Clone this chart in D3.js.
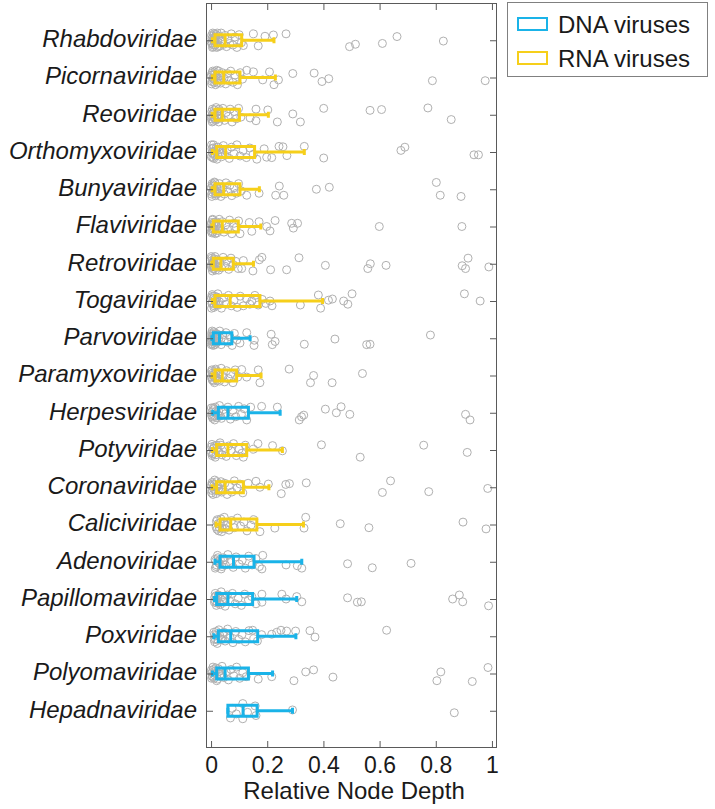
<!DOCTYPE html>
<html><head><meta charset="utf-8">
<script src="https://cdn.jsdelivr.net/npm/d3@7"></script>
<style>
body{margin:0;background:#fff;}
svg{display:block;font-family:"Liberation Sans",Arial,Helvetica,sans-serif;}
</style></head>
<body><svg id="c" width="715" height="809"></svg>
<script>
// ---- data ----
const families = ["Rhabdoviridae","Picornaviridae","Reoviridae","Orthomyxoviridae","Bunyaviridae","Flaviviridae","Retroviridae","Togaviridae","Parvoviridae","Paramyxoviridae","Herpesviridae","Potyviridae","Coronaviridae","Caliciviridae","Adenoviridae","Papillomaviridae","Poxviridae","Polyomaviridae","Hepadnaviridae"];
const genomeType = ["RNA","RNA","RNA","RNA","RNA","RNA","RNA","RNA","DNA","RNA","DNA","RNA","RNA","RNA","DNA","DNA","DNA","DNA","DNA"];
// [whisker low, Q1, median, Q3, whisker high]
const boxStats = [
 [0.005,0.014,0.050,0.109,0.224],
 [0.005,0.014,0.045,0.103,0.229],
 [0.004,0.014,0.040,0.101,0.204],
 [0.005,0.020,0.052,0.155,0.332],
 [0.004,0.014,0.045,0.103,0.172],
 [0.003,0.008,0.040,0.097,0.177],
 [0.003,0.008,0.035,0.079,0.151],
 [0.005,0.014,0.068,0.174,0.397],
 [0.003,0.008,0.030,0.074,0.139],
 [0.004,0.014,0.040,0.091,0.178],
 [0.006,0.026,0.060,0.133,0.246],
 [0.005,0.020,0.060,0.127,0.254],
 [0.004,0.020,0.050,0.115,0.206],
 [0.018,0.032,0.070,0.163,0.329],
 [0.014,0.032,0.080,0.153,0.323],
 [0.012,0.020,0.060,0.148,0.305],
 [0.010,0.026,0.070,0.166,0.302],
 [0.005,0.020,0.050,0.133,0.219],
 [0.060,0.060,0.114,0.164,0.290]
];
// observed relative node depths per family: [value, vertical jitter (-1..1)]
const nodeDepths = [
 [[0.002,-.6],[0.004,.4],[0.006,-.9],[0.008,.8],[0.01,0],[0.012,-.3],[0.015,.6],[0.018,-.7],[0.02,.9],[0.024,.2],[0.028,-.5],[0.032,.7],[0.036,-.9],[0.04,.1],[0.045,.5],[0.05,-.6],[0.055,.8],[0.06,-.2],[0.066,.4],[0.072,-.8],[0.078,.6],[0.085,-.4],[0.092,.9],[0.1,-.7],[0.108,.3],[0.115,.66],[0.151,-.8],[0.168,.7],[0.192,-.5],[0.222,-.66],[0.267,-.8],[0.493,.8],[0.514,.5],[0.61,.4],[0.662,-.46],[0.827,.1]],
 [[0.003,.5],[0.006,-.8],[0.009,.2],[0.012,-.4],[0.016,.9],[0.02,-.9],[0.025,.3],[0.03,-.2],[0.034,.7],[0.04,-.6],[0.046,.1],[0.052,.8],[0.058,-.5],[0.064,.4],[0.07,-.8],[0.078,.6],[0.085,-.3],[0.094,.9],[0.104,-.6],[0.112,.2],[0.127,-.9],[0.151,-.7],[0.184,.3],[0.208,-.7],[0.224,.9],[0.24,.3],[0.291,-.5],[0.367,-.55],[0.395,.5],[0.419,.15],[0.788,.4],[0.976,.4]],
 [[0.002,.2],[0.005,-.7],[0.008,.8],[0.011,-.2],[0.014,.5],[0.018,-.9],[0.022,.1],[0.027,.9],[0.031,-.5],[0.036,.4],[0.042,-.8],[0.048,.7],[0.054,-.3],[0.061,.2],[0.068,-.7],[0.075,.9],[0.083,-.4],[0.09,.5],[0.098,-.8],[0.106,.3],[0.139,.4],[0.16,-.7],[0.16,.75],[0.202,-.6],[0.236,.9],[0.291,-.1],[0.318,.9],[0.401,-.8],[0.566,-.55],[0.607,-.65],[0.772,-.85],[0.855,.6]],
 [[0.003,-.4],[0.006,.7],[0.009,-.9],[0.013,.3],[0.017,-.2],[0.021,.9],[0.026,-.6],[0.031,.1],[0.037,.6],[0.044,-.8],[0.05,.4],[0.057,-.3],[0.065,.8],[0.073,-.6],[0.082,.2],[0.092,-.9],[0.103,.5],[0.114,-.2],[0.126,.7],[0.138,-.5],[0.15,.3],[0.163,.9],[0.189,-.4],[0.198,.65],[0.216,.7],[0.242,-.7],[0.256,-.65],[0.27,.45],[0.332,-.7],[0.401,.75],[0.676,-.2],[0.69,-.6],[0.936,.35],[0.952,.35]],
 [[0.002,.6],[0.005,-.5],[0.008,.1],[0.012,-.9],[0.016,.8],[0.02,-.3],[0.025,.4],[0.03,-.7],[0.035,.9],[0.041,-.1],[0.047,.6],[0.053,-.8],[0.06,.3],[0.067,-.5],[0.074,.8],[0.082,-.2],[0.09,.5],[0.098,-.7],[0.107,.2],[0.127,.75],[0.171,.5],[0.23,.75],[0.243,-.4],[0.259,.75],[0.375,0],[0.421,-.25],[0.802,-.85],[0.816,.75],[0.89,.9]],
 [[0.001,-.3],[0.003,.8],[0.005,-.8],[0.008,.2],[0.011,-.5],[0.015,.9],[0.019,-.1],[0.024,.5],[0.029,-.9],[0.034,.3],[0.04,-.6],[0.046,.7],[0.052,-.2],[0.059,.4],[0.066,-.8],[0.074,.9],[0.082,-.4],[0.09,.1],[0.098,-.7],[0.103,.9],[0.136,-.5],[0.145,.6],[0.171,-.6],[0.198,0],[0.21,.55],[0.228,-.75],[0.287,-.4],[0.293,.2],[0.308,-.4],[0.599,0],[0.893,0]],
 [[0.001,.4],[0.003,-.7],[0.005,.9],[0.008,-.2],[0.011,.6],[0.014,-.9],[0.018,.2],[0.022,-.5],[0.027,.8],[0.032,-.1],[0.037,.5],[0.043,-.8],[0.049,.3],[0.056,-.4],[0.063,.7],[0.071,-.7],[0.079,.1],[0.088,-.3],[0.097,.6],[0.109,.6],[0.115,-.4],[0.149,.9],[0.172,-.5],[0.181,-.8],[0.212,.75],[0.269,.75],[0.313,-.75],[0.407,.2],[0.558,.6],[0.567,0],[0.623,.2],[0.894,.25],[0.906,.6],[0.915,-.7],[0.989,.4]],
 [[0.003,.3],[0.006,-.6],[0.01,.8],[0.014,-.2],[0.019,.5],[0.024,-.9],[0.03,.1],[0.037,.9],[0.045,-.4],[0.053,.4],[0.062,-.7],[0.072,.6],[0.082,-.1],[0.093,.8],[0.104,-.6],[0.115,.6],[0.126,-.3],[0.138,.4],[0.145,0],[0.156,-.7],[0.168,.5],[0.182,-.2],[0.195,.3],[0.21,0],[0.217,.6],[0.318,.5],[0.382,-.75],[0.39,.9],[0.418,-.1],[0.432,-.25],[0.472,0],[0.487,.4],[0.502,-.9],[0.902,-.9],[0.958,0]],
 [[0.001,.2],[0.002,-.6],[0.004,.7],[0.006,-.3],[0.008,.9],[0.01,-.8],[0.013,.4],[0.016,-.1],[0.019,.6],[0.023,-.5],[0.027,.1],[0.031,-.9],[0.036,.8],[0.041,-.4],[0.047,.3],[0.053,-.7],[0.06,.5],[0.067,-.2],[0.075,.9],[0.083,-.6],[0.092,.2],[0.103,.6],[0.127,-.7],[0.153,.9],[0.154,.25],[0.214,-.5],[0.218,.8],[0.228,.4],[0.332,.75],[0.441,.1],[0.554,.8],[0.566,.75],[0.781,-.4]],
 [[0.002,-.5],[0.005,.6],[0.008,-.1],[0.012,.9],[0.016,-.8],[0.02,.3],[0.025,-.4],[0.03,.7],[0.036,-.9],[0.042,.1],[0.048,.8],[0.055,-.6],[0.062,.4],[0.07,-.2],[0.078,.9],[0.086,-.7],[0.095,.2],[0.109,-.75],[0.127,.2],[0.168,-.7],[0.174,.9],[0.278,-.8],[0.354,.9],[0.365,0],[0.431,.9],[0.539,-.25]],
 [[0.004,.5],[0.008,-.6],[0.013,.9],[0.018,-.2],[0.024,.3],[0.03,-.9],[0.037,.7],[0.044,-.4],[0.052,.1],[0.06,-.7],[0.069,.8],[0.078,-.3],[0.088,.5],[0.098,-.8],[0.108,.2],[0.118,-.5],[0.127,.9],[0.141,-.7],[0.18,-.8],[0.236,-.7],[0.314,.9],[0.322,.5],[0.33,.3],[0.407,-.45],[0.446,0],[0.463,-.75],[0.494,.2],[0.906,.2],[0.922,.9]],
 [[0.003,-.7],[0.006,.5],[0.01,-.2],[0.015,.9],[0.02,-.6],[0.026,.2],[0.032,-.9],[0.039,.6],[0.046,-.3],[0.054,.8],[0.062,-.5],[0.071,.1],[0.08,-.8],[0.09,.7],[0.1,-.1],[0.11,.4],[0.115,.9],[0.122,-.6],[0.151,-.1],[0.167,-.8],[0.219,-.55],[0.254,.1],[0.393,-.65],[0.531,.9],[0.757,-.6],[0.912,.3]],
 [[0.002,.7],[0.005,-.4],[0.009,.2],[0.013,-.9],[0.018,.8],[0.023,-.1],[0.029,.5],[0.035,-.7],[0.042,.3],[0.049,-.5],[0.057,.9],[0.065,-.2],[0.074,.6],[0.083,-.8],[0.093,.1],[0.103,-.4],[0.113,.7],[0.132,-.5],[0.16,-.75],[0.174,0],[0.204,-.4],[0.25,.8],[0.266,-.35],[0.279,-.45],[0.339,-.55],[0.61,.65],[0.639,-.8],[0.775,.55],[0.985,.15]],
 [[0.018,.3],[0.022,-.6],[0.027,.8],[0.033,-.2],[0.04,.5],[0.047,-.9],[0.055,.1],[0.064,.7],[0.073,-.5],[0.083,.4],[0.094,-.8],[0.105,.2],[0.117,-.3],[0.128,.8],[0.142,.1],[0.152,-.6],[0.174,.9],[0.227,.45],[0.331,.45],[0.337,-.9],[0.46,-.1],[0.562,.4],[0.897,-.3],[0.979,.55]],
 [[0.014,-.3],[0.018,.6],[0.023,-.8],[0.029,.2],[0.036,.9],[0.043,-.5],[0.051,.4],[0.06,-.9],[0.069,.1],[0.079,.7],[0.089,-.6],[0.1,.3],[0.111,-.2],[0.122,.8],[0.134,-.7],[0.146,.4],[0.16,-.4],[0.172,.6],[0.181,.9],[0.184,-.8],[0.267,.4],[0.307,.5],[0.323,.8],[0.486,.25],[0.574,.75],[0.712,.2]],
 [[0.012,.4],[0.015,-.7],[0.019,.8],[0.024,-.2],[0.03,.5],[0.036,-.9],[0.043,.2],[0.05,.9],[0.058,-.5],[0.067,.3],[0.076,-.7],[0.086,.6],[0.097,-.1],[0.108,.8],[0.12,-.6],[0.133,.1],[0.145,-.3],[0.16,.6],[0.181,-.6],[0.181,.4],[0.252,-.6],[0.267,0],[0.305,-.3],[0.323,.35],[0.486,-.15],[0.521,.4],[0.535,.35],[0.86,0],[0.884,-.5],[0.896,.35],[0.988,.85]],
 [[0.01,-.5],[0.013,.7],[0.017,-.1],[0.022,.9],[0.028,-.8],[0.035,.3],[0.042,-.4],[0.05,.6],[0.059,-.9],[0.068,.2],[0.078,.8],[0.088,-.6],[0.099,.4],[0.11,-.2],[0.122,.7],[0.135,-.7],[0.148,-.75],[0.152,.3],[0.165,.6],[0.18,-.2],[0.216,-.25],[0.234,-.5],[0.249,-.75],[0.269,-.65],[0.301,-.65],[0.352,-.7],[0.37,.1],[0.625,-.75]],
 [[0.004,.3],[0.007,-.8],[0.011,.6],[0.015,-.3],[0.02,.9],[0.026,-.6],[0.032,.1],[0.039,-.9],[0.046,.5],[0.054,-.2],[0.062,.8],[0.071,-.5],[0.081,.3],[0.091,-.8],[0.102,.6],[0.113,-.1],[0.125,.4],[0.168,.7],[0.216,.4],[0.295,.9],[0.337,-.2],[0.365,-.45],[0.434,.45],[0.804,.9],[0.818,-.2],[0.93,1],[0.986,-.75]],
 [[0.069,.9],[0.075,-.3],[0.09,.4],[0.113,-.9],[0.113,1],[0.13,.2],[0.157,-.6],[0.16,.6],[0.29,-.1],[0.866,.25]]
];
// additional densely packed low-depth observations per family
const lowDepths = [
 [[0.001,.3],[0.003,-.2],[0.005,.9],[0.007,-.5],[0.009,.6],[0.011,-.8],[0.013,.1],[0.016,-.4],[0.019,.4],[0.022,-.9],[0.026,.8]],
 [[0.001,-.3],[0.002,.8],[0.004,-.6],[0.007,.1],[0.01,.6],[0.013,-.7],[0.015,.3],[0.018,-.2],[0.022,.7],[0.027,-.8]],
 [[0.001,.5],[0.003,-.4],[0.004,.9],[0.006,-.1],[0.009,.3],[0.012,-.6],[0.016,.7],[0.02,-.3],[0.024,.5],[0.028,-.7]],
 [[0.001,.6],[0.002,-.9],[0.004,.1],[0.007,-.5],[0.01,.8],[0.012,-.1],[0.015,.5],[0.019,-.6],[0.023,.3],[0.028,-.3]],
 [[0.001,-.2],[0.003,.9],[0.004,-.7],[0.006,.4],[0.01,-.4],[0.013,.2],[0.014,-.8],[0.018,.6],[0.022,-.1],[0.027,.5]],
 [[0.001,.6],[0.002,-.5],[0.004,.3],[0.006,-.9],[0.007,.7],[0.009,-.2],[0.013,.4],[0.017,-.6],[0.021,.8],[0.026,-.4]],
 [[0.001,-.9],[0.002,.1],[0.004,-.4],[0.006,.6],[0.007,-.1],[0.009,.3],[0.012,-.6],[0.016,.8],[0.02,-.3],[0.025,.4]],
 [[0.001,-.4],[0.002,.9],[0.004,-.8],[0.005,.2],[0.008,-.3],[0.011,.6],[0.012,-.6],[0.016,.1],[0.021,-.5],[0.027,.5]],
 [[0.001,.8],[0.002,-.2],[0.003,.4],[0.004,-.9],[0.005,.1],[0.007,-.5],[0.009,.5],[0.011,-.3],[0.014,.8],[0.017,-.6],[0.021,.4]],
 [[0.001,.2],[0.003,-.7],[0.004,.5],[0.006,-.3],[0.009,.7],[0.011,-.1],[0.014,.3],[0.018,-.6],[0.022,.6],[0.027,-.2]],
 [[0.001,-.6],[0.002,.3],[0.003,-.1],[0.006,.7],[0.01,-.4],[0.011,.4],[0.015,-.7],[0.021,.6],[0.027,-.2],[0.033,.4]],
 [[0.001,.3],[0.002,-.4],[0.004,.7],[0.008,-.2],[0.009,.4],[0.012,-.5],[0.017,.6],[0.022,-.3],[0.029,.3],[0.035,-.6]],
 [[0.001,-.2],[0.003,.4],[0.004,-.6],[0.007,.9],[0.011,-.3],[0.015,.4],[0.02,-.7],[0.026,.2],[0.032,-.4],[0.038,.6]],
 [[0.019,-.4],[0.021,.6],[0.025,-.1],[0.03,.4],[0.035,-.7],[0.038,.9],[0.044,-.3],[0.05,.5]],
 [[0.015,.8],[0.016,-.1],[0.02,.4],[0.025,-.5],[0.027,.1],[0.033,-.3],[0.039,.6],[0.046,-.2]],
 [[0.013,-.2],[0.014,.2],[0.017,-.4],[0.021,.5],[0.026,-.5],[0.033,.7],[0.04,-.3],[0.047,.4]],
 [[0.011,.4],[0.012,-.2],[0.015,.3],[0.019,-.6],[0.025,.5],[0.031,-.1],[0.038,.4],[0.046,-.5]],
 [[0.001,-.4],[0.002,.6],[0.003,-.1],[0.005,.4],[0.009,-.5],[0.013,.2],[0.017,-.7],[0.023,.7],[0.029,-.3],[0.036,.4]],
 []
];
const xTicks = [0,0.2,0.4,0.6,0.8,1];
const legendItems = ["DNA viruses","RNA viruses"];
const colors = {DNA:"#1ab3e8", RNA:"#f6cf1a"};

// ---- drawing ----
const svg = d3.select("#c");
const L=206, R=497, T=3, B=748;
const x = d3.scaleLinear().domain([-0.018,1.018]).range([L,R]);
const y = d3.scalePoint().domain(families).range([T,B]).padding(1);
const jit = 8;
const frameCol = "#5a5a5a";
const txtCol = "#1a1a1a";

// points
families.forEach((f,i)=>{
  svg.append("g").selectAll("circle").data(lowDepths[i].concat(nodeDepths[i])).join("circle")
    .attr("cx",d=>x(d[0])).attr("cy",d=>y(f)+d[1]*jit).attr("r",4)
    .attr("fill","none").attr("stroke","#b0b0b0").attr("stroke-width",1);
});

// boxes
families.forEach((f,i)=>{
  const [lo,q1,md,q3,hi]=boxStats[i];
  const c=colors[genomeType[i]];
  const cy=y(f);
  const g=svg.append("g").attr("stroke",c).attr("stroke-width",3).attr("fill","none");
  g.append("line").attr("x1",x(lo)).attr("x2",x(q1)).attr("y1",cy).attr("y2",cy);
  g.append("line").attr("x1",x(q3)).attr("x2",x(hi)).attr("y1",cy).attr("y2",cy);
  g.append("line").attr("x1",x(hi)).attr("x2",x(hi)).attr("y1",cy-3).attr("y2",cy+3);
  g.append("line").attr("x1",x(lo)).attr("x2",x(lo)).attr("y1",cy-3).attr("y2",cy+3);
  g.append("rect").attr("x",x(q1)).attr("y",cy-5.5).attr("width",x(q3)-x(q1)).attr("height",11);
  g.append("line").attr("x1",x(md)).attr("x2",x(md)).attr("y1",cy-5.5).attr("y2",cy+5.5);
});

// frame
svg.append("rect").attr("x",L+0.5).attr("y",T+0.5).attr("width",R-L-1).attr("height",B-T-1)
  .attr("fill","none").attr("stroke",frameCol).attr("stroke-width",1);

// axes
const fmt=d3.format("~g");
const ax = svg.append("g").attr("transform",`translate(0,${B})`)
  .call(d3.axisBottom(x).tickValues(xTicks).tickFormat(fmt).tickSizeInner(-7).tickSizeOuter(0).tickPadding(9));
const axT = svg.append("g").attr("transform",`translate(0,${T})`)
  .call(d3.axisTop(x).tickValues(xTicks).tickFormat("").tickSizeInner(-7).tickSizeOuter(0));
const ay = svg.append("g").attr("transform",`translate(${L},0)`)
  .call(d3.axisLeft(y).tickSizeInner(-7).tickSizeOuter(0).tickPadding(9));
const ayR = svg.append("g").attr("transform",`translate(${R},0)`)
  .call(d3.axisRight(y).tickFormat("").tickSizeInner(-7).tickSizeOuter(0));
[ax,axT,ay,ayR].forEach(a=>{
  a.select(".domain").remove();
  a.selectAll(".tick line").attr("stroke",frameCol);
  a.selectAll("text").attr("font-family",'"Liberation Sans",Arial,sans-serif').attr("font-size",24).attr("fill",txtCol);
});
ax.selectAll("text").attr("font-size",23);
ay.selectAll("text").attr("font-style","italic").attr("dy","0.27em");

svg.append("text").attr("x",354).attr("y",799).attr("text-anchor","middle")
  .attr("font-size",24).attr("fill",txtCol).text("Relative Node Depth");

// legend
const lg=svg.append("g");
lg.append("rect").attr("x",507.5).attr("y",2.5).attr("width",200).attr("height",74)
  .attr("fill","#fff").attr("stroke","#808080").attr("stroke-width",1);
legendItems.forEach((t,i)=>{
  const cy=24+i*34;
  lg.append("rect").attr("x",518).attr("y",cy-6).attr("width",29).attr("height",12)
    .attr("fill","none").attr("stroke",colors[t.slice(0,3)]).attr("stroke-width",2);
  lg.append("text").attr("x",558).attr("y",cy).attr("dy","0.36em").attr("font-size",24)
    .attr("fill",txtCol).text(t);
});
</script></body></html>
